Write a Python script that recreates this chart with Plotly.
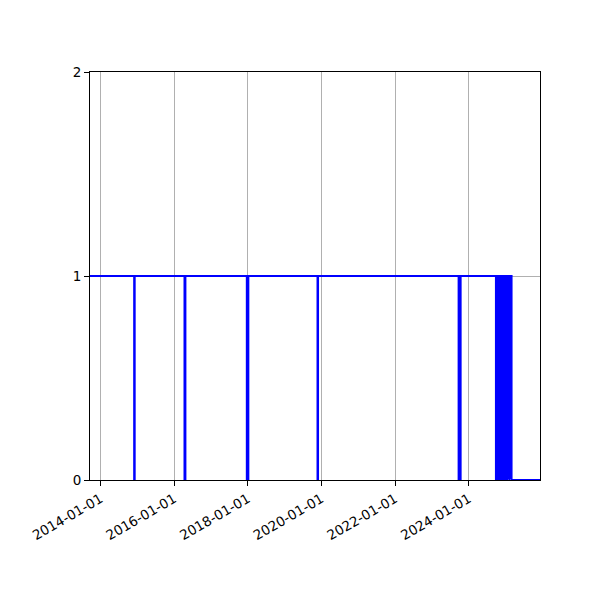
import plotly.graph_objects as go

# state changes (step plot, value holds until next date)
dates = [
    "2013-09-19", "2014-12-01", "2014-12-06", "2016-04-13", "2016-04-22",
    "2017-12-22", "2018-01-06", "2019-11-23", "2019-11-28", "2023-09-22",
    "2023-10-12", "2024-09-26", "2024-10-01", "2024-10-06", "2024-10-12",
    "2024-10-18", "2024-10-24", "2024-10-30", "2024-11-05", "2024-11-10",
    "2024-11-16", "2024-12-06", "2024-12-12", "2024-12-18", "2024-12-24",
    "2024-12-29", "2025-01-01", "2025-01-17", "2025-01-18", "2025-02-07",
    "2025-02-08", "2025-02-28", "2025-12-07",
]
values = [
    1, 0, 1, 0, 1,
    0, 1, 0, 1, 0,
    1, 0, 1, 0, 1,
    0, 1, 0, 1, 0,
    1, 0, 1, 0, 1,
    0, 1, 0, 1, 0,
    1, 0, 0,
]
x_ticks = ["2014-01-01", "2016-01-01", "2018-01-01", "2020-01-01", "2022-01-01", "2024-01-01"]
y_ticks = [0, 1, 2]

fig = go.Figure()
fig.add_trace(go.Scatter(x=dates, y=values, mode="lines", line_shape="hv",
                         line=dict(color="blue", width=2), showlegend=False))

axis_style = dict(showline=True, linecolor="black", linewidth=1, mirror=True,
                  ticks="outside", ticklen=5, tickcolor="black",
                  showgrid=True, gridcolor="#b0b0b0", gridwidth=0.8, zeroline=False,
                  tickfont=dict(family="DejaVu Sans", size=13.5, color="black"))

fig.update_xaxes(range=["2013-09-19", "2025-12-07"], tickvals=x_ticks, ticktext=x_ticks,
                 tickangle=-30, **axis_style)
fig.update_yaxes(range=[0, 2], tickvals=y_ticks, **axis_style)

fig.update_layout(width=600, height=600, plot_bgcolor="white", paper_bgcolor="white",
                  margin=dict(l=82, r=68, t=64, b=128))
fig.write_html("out.html")
